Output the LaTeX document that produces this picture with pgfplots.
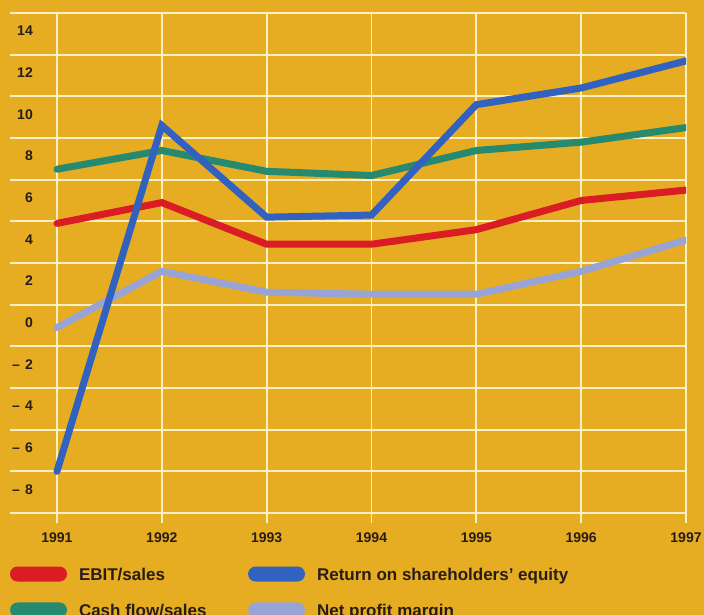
\documentclass[border=0pt]{standalone}
\usepackage{fontspec}
\setmainfont{Liberation Sans}
\usepackage{pgfplots}
\pgfplotsset{compat=1.18}

\definecolor{bg}{RGB}{230,173,34}
\definecolor{gridc}{RGB}{251,240,196}
\definecolor{ebit}{RGB}{218,28,36}
\definecolor{roe}{RGB}{50,98,192}
\definecolor{cash}{RGB}{38,138,112}
\definecolor{npm}{RGB}{152,164,214}
\definecolor{ink}{RGB}{40,28,22}

\begin{document}
\begin{tikzpicture}
\useasboundingbox (0,0) rectangle (704pt,615pt);
\fill[bg] (0,0) rectangle (704pt,615pt);
\clip (0,0) rectangle (704pt,615pt);
\begin{axis}[
  at={(10pt,92pt)}, anchor=south west,
  scale only axis, width=676pt, height=510pt,
  xmin=1990.552, xmax=1997, ymin=-10.48, ymax=14,
  xtick={1991,1992,1993,1994,1995,1996,1997},
  xticklabels={1991,1992,1993,1994,1995,1996,1997},
  ytick={-10,-8,-6,-4,-2,0,2,4,6,8,10,12,14},
  yticklabels={{},{\textendash\hspace{5pt}8},{\textendash\hspace{5pt}6},{\textendash\hspace{5pt}4},{\textendash\hspace{5pt}2},0,2,4,6,8,10,12,14},
  axis line style={draw=none},
  tick style={draw=none}, major tick length=0pt,
  grid=major, major grid style={gridc, line width=1.8pt},
  xticklabel style={font=\bfseries\fontsize{14}{16}\selectfont, text=ink, anchor=north, inner sep=0pt, yshift=-10pt},
  yticklabel style={font=\bfseries\fontsize{14}{16}\selectfont, text=ink, anchor=east, inner sep=0pt, xshift=23pt, yshift=-18pt},
  legend columns=2,
  legend image code/.code={\fill[#1, draw=none, line width=0pt, rounded corners=7.5pt] (0pt,-7.5pt) rectangle (57pt,7.5pt);},
  legend style={at={(0,-0.0853)}, anchor=north west, draw=none, fill=none,
    inner sep=0pt, outer sep=0pt, row sep=21pt, column sep=0pt,
    font=\bfseries\fontsize{17}{20}\selectfont, text=ink,
    nodes={inner sep=0pt, text height=12pt, text depth=0pt, anchor=west},
    /tikz/every odd column/.append style={column sep=12pt},
    /tikz/every even column/.append style={column sep=41.5pt}},
  every axis plot/.append style={line width=7pt, line cap=round, line join=miter},
]
% EBIT/sales
\addplot[ebit, forget plot] coordinates {(1991,3.9) (1992,4.9) (1993,2.9) (1994,2.9) (1995,3.6) (1996,5.0) (1997,5.5)};
% Cash flow/sales
\addplot[cash, forget plot] coordinates {(1991,6.5) (1992,7.4) (1993,6.4) (1994,6.2) (1995,7.4) (1996,7.8) (1997,8.5)};
% Net profit margin
\addplot[npm, forget plot] coordinates {(1991,-1.1) (1992,1.6) (1993,0.6) (1994,0.5) (1995,0.5) (1996,1.6) (1997,3.1)};
% Return on shareholders' equity
\addplot[roe, forget plot] coordinates {(1991,-8.0) (1992,8.6) (1993,4.2) (1994,4.3) (1995,9.6) (1996,10.4) (1997,11.7)};

\addlegendimage{ebit}
\addlegendentry{EBIT/sales}
\addlegendimage{roe}
\addlegendentry{Return on shareholders’ equity}
\addlegendimage{cash}
\addlegendentry{Cash flow/sales}
\addlegendimage{npm}
\addlegendentry{Net profit margin}
\end{axis}
\end{tikzpicture}
\end{document}
